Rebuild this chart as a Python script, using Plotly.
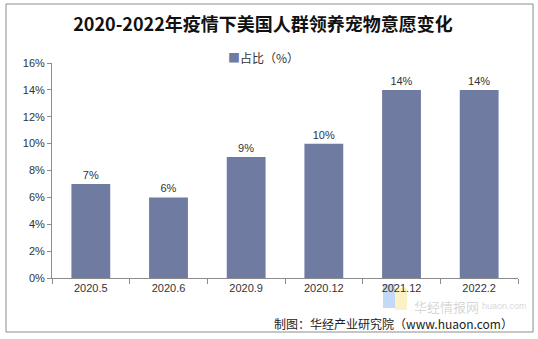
import plotly.graph_objects as go

categories = ["2020.5", "2020.6", "2020.9", "2020.12", "2021.12", "2022.2"]
values = [7, 6, 9, 10, 14, 14]
series_name = "占比（%）"
title_text = "2020-2022年疫情下美国人群领养宠物意愿变化"
source_text = "制图：华经产业研究院（www.huaon.com）"

W, H = 538, 339
L, R, T, B = 52, 20, 63, 61
pw, ph = W - L - R, H - T - B

def px_x(x):
    return (x - L) / pw

def px_y(y):
    return (H - B - y) / ph

bar_color = "#6F7BA0"
font_main = "Liberation Sans, Noto Sans CJK SC, sans-serif"

fig = go.Figure()
fig.add_trace(go.Bar(
    x=categories, y=values, name=series_name,
    marker=dict(color=bar_color, line=dict(width=0)),
    width=0.5,
    text=[f"{v}%" for v in values], textposition="outside",
    texttemplate="%{text}", cliponaxis=False,
    textfont=dict(size=11, color="#333333", family=font_main),
    showlegend=False,
))

fig.update_layout(
    width=W, height=H,
    margin=dict(l=L, r=R, t=T, b=B),
    paper_bgcolor="white", plot_bgcolor="white",
    title=dict(text="<b>" + title_text + "</b>", x=263 / W, xanchor="center", xref="container",
               y=1 - 25 / H, yanchor="middle",
               font=dict(size=18, color="#111111", family="Noto Sans CJK SC, sans-serif")),
    bargap=0.5,
    showlegend=False,
)
fig.update_xaxes(
    type="category", showline=True, linecolor="#8c8c8c", linewidth=1,
    ticks="outside", tickson="boundaries", ticklen=5, tickcolor="#8c8c8c",
    tickfont=dict(size=11, color="#333333", family=font_main),
    showgrid=False,
)
fig.update_yaxes(
    range=[0, 16], dtick=2, ticksuffix="%", showline=True, linecolor="#8c8c8c",
    linewidth=1, ticks="outside", ticklen=4, tickcolor="#8c8c8c",
    tickfont=dict(size=11, color="#333333", family=font_main),
    showgrid=False, zeroline=False,
)

# legend (as annotation to keep marker next to text)
fig.add_annotation(text=f"<span style='color:{bar_color}'>■</span>{series_name}",
                   xref="paper", yref="paper", x=px_x(263), y=px_y(57),
                   xanchor="center", yanchor="middle", showarrow=False,
                   font=dict(size=12, color="#333333", family="Noto Sans CJK SC, sans-serif"))

# outer border
fig.add_shape(type="rect", xref="paper", yref="paper",
              x0=px_x(6), x1=px_x(533), y0=px_y(332), y1=px_y(4),
              line=dict(color="#8c8c8c", width=1), fillcolor="rgba(0,0,0,0)", layer="below")

# watermark (faint logo + text, kept below tick labels)
fig.add_shape(type="rect", xref="paper", yref="paper",
              x0=px_x(383), x1=px_x(395), y0=px_y(308), y1=px_y(284),
              line=dict(width=0), fillcolor="rgba(120,170,240,0.45)", layer="below")
fig.add_shape(type="rect", xref="paper", yref="paper",
              x0=px_x(395), x1=px_x(407), y0=px_y(310), y1=px_y(288),
              line=dict(width=0), fillcolor="rgba(250,230,150,0.55)", layer="below")
fig.add_annotation(text="华经情报网", xref="paper", yref="paper",
                   x=px_x(412), y=px_y(306), xanchor="left", yanchor="middle", showarrow=False,
                   font=dict(size=13, color="rgba(150,150,150,0.4)", family="Noto Sans CJK SC"))
fig.add_annotation(text="huaon.com", xref="paper", yref="paper",
                   x=px_x(480), y=px_y(306), xanchor="left", yanchor="middle", showarrow=False,
                   font=dict(size=9, color="rgba(150,150,150,0.4)", family=font_main))

# source
fig.add_annotation(text=source_text, xref="paper", yref="paper",
                   x=px_x(515), y=px_y(323), xanchor="right", yanchor="middle",
                   showarrow=False,
                   font=dict(size=12, color="#222222", family="Noto Sans CJK SC, sans-serif"))

fig.write_html("out.html")
